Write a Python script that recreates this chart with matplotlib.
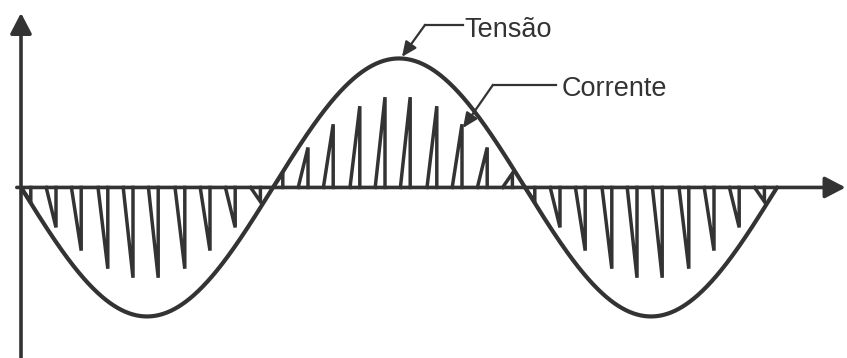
import matplotlib
matplotlib.use('Agg')
import matplotlib.pyplot as plt
import numpy as np

plt.rcParams['font.family'] = ['Liberation Sans', 'DejaVu Sans']

# tensao: senoide de amplitude 1, meio ciclo = 180 graus
amplitude = 1.0
half_cycles = [0, 180, 360]          # inicio de cada meio ciclo (graus)
half_signs = [-1, 1, -1]             # sinal de cada meio ciclo

# corrente: dentes em cada meio ciclo (posicao do pico relativa ao inicio)
tooth_pos = [7, 25, 43, 62, 80, 98, 117, 135, 153, 171]
tooth_height = [0.11, 0.31, 0.49, 0.63, 0.70, 0.70, 0.63, 0.49, 0.31, 0.11]
tooth_width = 7

labels = ['Tensão', 'Corrente']

col = '#333333'

fig = plt.figure(figsize=(8.47, 3.58), dpi=100)
ax = fig.add_axes([0, 0, 1, 1])
ax.set_xlim(-15, 590)
ax.set_ylim(-1.322, 1.453)
ax.axis('off')

# eixos com setas
ax.annotate('', xy=(589, 0), xytext=(-3, 0),
            arrowprops=dict(arrowstyle='-|>,head_length=1.25,head_width=0.65',
                            lw=2.6, color=col, mutation_scale=10,
                            shrinkA=0, shrinkB=0))
ax.annotate('', xy=(0, 1.353), xytext=(0, -1.4),
            arrowprops=dict(arrowstyle='-|>,head_length=1.25,head_width=0.65',
                            lw=2.6, color=col, mutation_scale=10,
                            shrinkA=0, shrinkB=0))

# tensao
x = np.linspace(0, 540, 800)
v = -amplitude * np.sin(np.radians(x))
ax.plot(x, v, color=col, lw=3.0, solid_capstyle='round')

# corrente (dente de serra)
for start, sign in zip(half_cycles, half_signs):
    for p, h in zip(tooth_pos, tooth_height):
        xp = start + p
        ax.plot([xp - tooth_width, xp, xp], [0, sign * h, 0],
                color=col, lw=2.5, solid_joinstyle='miter')

# rotulos
ax.text(317, 1.169, labels[0], fontsize=19.5, color=col, va='baseline', ha='left')
ax.plot([315.7, 288.6], [1.26, 1.26], color=col, lw=1.6)
ax.annotate('', xy=(272.1, 1.012), xytext=(288.6, 1.26),
            arrowprops=dict(arrowstyle='-|>,head_length=0.9,head_width=0.4',
                            lw=1.6, color=col, mutation_scale=10,
                            shrinkA=0, shrinkB=0))

ax.text(386.0, 0.712, labels[1], fontsize=19.5, color=col, va='baseline', ha='left')
ax.plot([382.1, 337.1], [0.795, 0.795], color=col, lw=1.6)
ax.annotate('', xy=(315.7, 0.461), xytext=(337.1, 0.795),
            arrowprops=dict(arrowstyle='-|>,head_length=0.9,head_width=0.4',
                            lw=1.6, color=col, mutation_scale=10,
                            shrinkA=0, shrinkB=0))

fig.savefig('out.png', dpi=100)
